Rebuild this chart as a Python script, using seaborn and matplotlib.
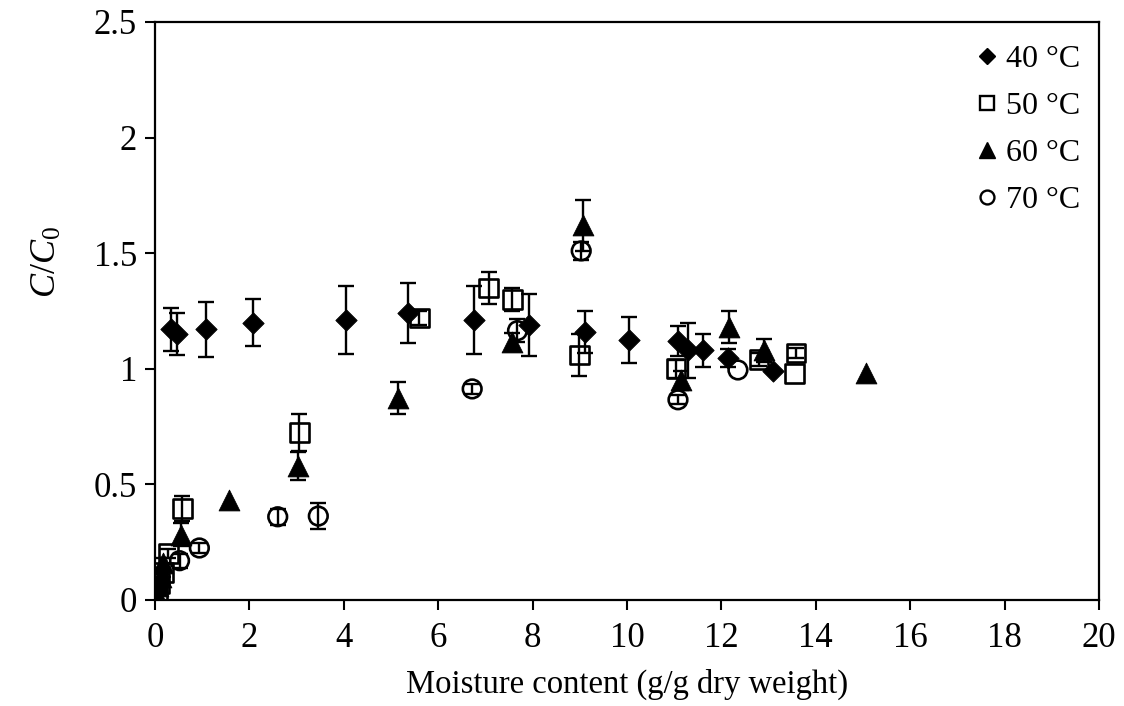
import numpy as np
import pandas as pd
import matplotlib
matplotlib.use("Agg")
import matplotlib.pyplot as plt
import seaborn as sns
from matplotlib.lines import Line2D
from matplotlib.ticker import FixedLocator, FuncFormatter

# ---------------- data ----------------
labels = ["40 °C", "50 °C", "60 °C", "70 °C"]

x40 = [0.33, 0.47, 1.08, 2.07, 4.05, 5.35, 6.75, 7.93, 9.11, 10.04, 11.08, 11.29, 11.62, 12.14, 13.09]
y40 = [1.17, 1.15, 1.17, 1.20, 1.21, 1.24, 1.21, 1.19, 1.16, 1.125, 1.12, 1.08, 1.08, 1.047, 0.99]
e40 = [0.094, 0.092, 0.12, 0.10, 0.146, 0.13, 0.148, 0.133, 0.09, 0.10, 0.065, 0.12, 0.072, 0.04, 0.0]

x50 = [0.05, 0.10, 0.18, 0.28, 0.58, 3.06, 5.60, 7.07, 7.57, 8.99, 11.04, 12.80, 13.55, 13.58]
y50 = [0.03, 0.07, 0.12, 0.20, 0.395, 0.724, 1.22, 1.35, 1.30, 1.06, 1.00, 1.04, 0.98, 1.068]
e50 = [0.0, 0.0, 0.02, 0.02, 0.055, 0.08, 0.03, 0.07, 0.05, 0.09, 0.04, 0.03, 0.0, 0.02]

x60 = [0.04, 0.07, 0.12, 0.18, 0.555, 1.56, 3.04, 5.14, 7.57, 9.06, 11.15, 12.17, 12.90, 15.07]
y60 = [0.02, 0.06, 0.10, 0.16, 0.283, 0.434, 0.58, 0.875, 1.115, 1.62, 0.95, 1.18, 1.08, 0.98]
e60 = [0.0, 0.0, 0.0, 0.02, 0.05, 0.0, 0.06, 0.07, 0.04, 0.11, 0.04, 0.07, 0.05, 0.0]

x70 = [0.05, 0.10, 0.52, 0.94, 2.60, 3.46, 6.72, 7.68, 9.03, 11.08, 12.35]
y70 = [0.05, 0.08, 0.17, 0.225, 0.36, 0.363, 0.913, 1.165, 1.51, 0.866, 0.995]
e70 = [0.01, 0.01, 0.03, 0.02, 0.035, 0.057, 0.02, 0.05, 0.04, 0.02, 0.0]

x_ticks = [0, 2, 4, 6, 8, 10, 12, 14, 16, 18, 20]
y_ticks = [0, 0.5, 1, 1.5, 2, 2.5]

# ---------------- style ----------------
sns.set_theme(style="white")
plt.rcParams["font.family"] = ["Liberation Serif", "DejaVu Serif"]
plt.rcParams["mathtext.fontset"] = "custom"
plt.rcParams["mathtext.rm"] = "Liberation Serif"
plt.rcParams["mathtext.it"] = "Liberation Serif:italic"
FS = 23.5

fig = plt.figure(figsize=(11.24, 7.06), dpi=100)
ax = fig.add_axes([155 / 1124, 106 / 706, 944 / 1124, 578 / 706])

series = [
    dict(x=x40, y=y40, e=e40, marker="D", s=118, filled=True),
    dict(x=x50, y=y50, e=e50, marker="s", s=180, filled=False),
    dict(x=x60, y=y60, e=e60, marker="^", s=225, filled=True),
    dict(x=x70, y=y70, e=e70, marker="o", s=180, filled=False),
]

for lab, sr in zip(labels, series):
    df = pd.DataFrame({"moisture": sr["x"], "ratio": sr["y"], "err": sr["e"]})
    d = df[df["err"] > 0]
    ax.errorbar(d["moisture"], d["ratio"], yerr=d["err"], fmt="none",
                ecolor="black", elinewidth=1.7, capsize=5.5, capthick=1.7, zorder=3)
    if sr["filled"]:
        sns.scatterplot(data=df, x="moisture", y="ratio", marker=sr["marker"], s=sr["s"],
                        color="black", edgecolor="black", linewidth=0.6, ax=ax,
                        legend=False, zorder=2)
    else:
        sns.scatterplot(data=df, x="moisture", y="ratio", marker=sr["marker"], s=sr["s"],
                        facecolor="none", edgecolor="black", linewidth=1.9, ax=ax,
                        legend=False, zorder=2)

# axes
ax.set_xlim(0, 20)
ax.set_ylim(0, 2.5)
ax.xaxis.set_major_locator(FixedLocator(x_ticks))
ax.yaxis.set_major_locator(FixedLocator(y_ticks))
ax.yaxis.set_major_formatter(FuncFormatter(lambda v, p: f"{v:g}"))
ax.tick_params(axis="both", direction="out", length=7, width=1.5, labelsize=25,
               colors="black", bottom=True, left=True)
ax.tick_params(axis="x", pad=9)
ax.tick_params(axis="y", pad=6)
for sp in ax.spines.values():
    sp.set_visible(True)
    sp.set_color("black")
    sp.set_linewidth(1.6)
ax.grid(False)

ax.set_xlabel("Moisture content (g/g dry weight)", fontsize=FS, color="black", labelpad=10)
ax.set_ylabel(r"$C$/$C_\mathrm{0}$", fontsize=26, color="black")
ax.yaxis.set_label_coords(-0.097, 0.585)

# legend
handles = [
    Line2D([], [], ls="none", marker="D", markersize=8.3, color="black"),
    Line2D([], [], ls="none", marker="s", markersize=10.0, markerfacecolor="none",
           markeredgecolor="black", markeredgewidth=1.7),
    Line2D([], [], ls="none", marker="^", markersize=11.0, color="black"),
    Line2D([], [], ls="none", marker="o", markersize=10.0, markerfacecolor="none",
           markeredgecolor="black", markeredgewidth=1.7),
]
leg = ax.legend(handles, labels, loc="upper left",
                bbox_to_anchor=(977 / 1124, 1 - 45 / 706), bbox_transform=fig.transFigure,
                frameon=False, fontsize=23, borderpad=0, borderaxespad=0,
                handlelength=0.6, handletextpad=0.3, labelspacing=0.55)
for t in leg.get_texts():
    t.set_color("black")

fig.savefig("out.png", dpi=100)
